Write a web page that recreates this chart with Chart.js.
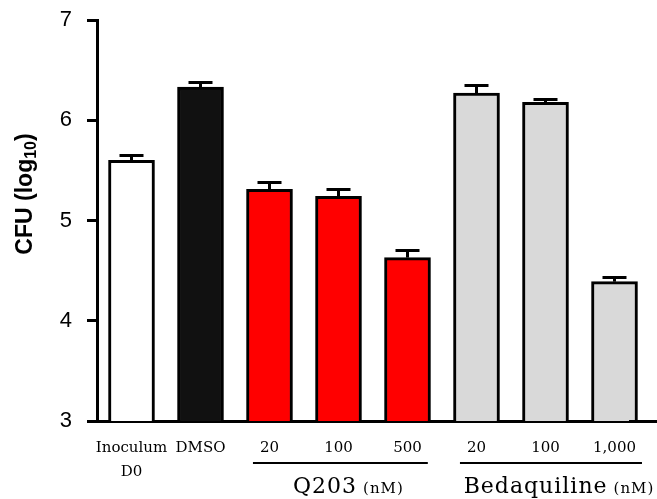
<!DOCTYPE html>
<html lang="en">
<head>
<meta charset="UTF-8" />
<title>CFU (log10)</title>
<script src="https://cdn.jsdelivr.net/npm/chart.js"></script>
<style>
  html, body { margin: 0; padding: 0; background: #fff; }
  canvas { display: block; }
</style>
</head>
<body>
<canvas id="cfuChart" width="657" height="499"></canvas>
<script>
  // data
  const categories = [['Inoculum', 'D0'], 'DMSO', '20', '100', '500', '20', '100', '1,000'];
  const cfuMean = [5.60, 6.33, 5.31, 5.24, 4.63, 6.27, 6.18, 4.39];
  const cfuErr = [0.05, 0.05, 0.07, 0.07, 0.07, 0.08, 0.03, 0.04];
  const barColors = ['#ffffff', '#111111', '#ff0000', '#ff0000', '#ff0000', '#d9d9d9', '#d9d9d9', '#d9d9d9'];
  const yTicks = [3, 4, 5, 6, 7];
  const groups = [
    { name: 'Q203', unit: '(nM)', first: 2, last: 4 },
    { name: 'Bedaquiline', unit: '(nM)', first: 5, last: 7 }
  ];

  const sansFont = '"Liberation Sans", Arial, sans-serif';
  const serifFont = '"DejaVu Serif", "Liberation Serif", serif';

  // same rounding chart.js uses for its borders
  const align = (px, w) => Math.round(px - w / 2) + w / 2;

  // upper error bars with caps
  const errorBars = {
    id: 'errorBars',
    afterDatasetsDraw(chart) {
      const ctx = chart.ctx;
      const y = chart.scales.y;
      const meta = chart.getDatasetMeta(0);
      ctx.save();
      ctx.strokeStyle = '#000';
      meta.data.forEach((bar, i) => {
        const top = align(y.getPixelForValue(cfuMean[i] + cfuErr[i]), 3);
        const cx = align(bar.x, 3);
        ctx.lineWidth = 3;
        ctx.beginPath();
        ctx.moveTo(cx, bar.y);
        ctx.lineTo(cx, top);
        ctx.stroke();
        ctx.beginPath();
        ctx.moveTo(cx - 12, top);
        ctx.lineTo(cx + 12, top);
        ctx.stroke();
      });
      ctx.restore();
    }
  };

  // y title with subscript, group underlines and names, axis line to the edge
  const extras = {
    id: 'extras',
    afterDraw(chart) {
      const ctx = chart.ctx;
      const area = chart.chartArea;
      const xs = chart.scales.x;
      ctx.save();

      // x axis line runs to the right edge
      const yb = align(area.bottom, 3);
      ctx.strokeStyle = '#000';
      ctx.lineWidth = 3;
      ctx.beginPath();
      ctx.moveTo(area.right - 20, yb);
      ctx.lineTo(chart.width, yb);
      ctx.stroke();

      // y title
      ctx.save();
      ctx.translate(26, 194);
      ctx.rotate(-Math.PI / 2);
      ctx.fillStyle = '#000';
      ctx.textBaseline = 'middle';
      ctx.textAlign = 'left';
      const mainFont = 'bold 23px ' + sansFont;
      const subFont = 'bold 16px ' + sansFont;
      ctx.font = mainFont;
      const w1 = ctx.measureText('CFU (log').width;
      const w3 = ctx.measureText(')').width;
      ctx.font = subFont;
      const w2 = ctx.measureText('10').width;
      let x0 = -(w1 + w2 + w3) / 2;
      ctx.font = mainFont;
      ctx.fillText('CFU (log', x0, 0);
      ctx.font = subFont;
      ctx.fillText('10', x0 + w1, 6);
      ctx.font = mainFont;
      ctx.fillText(')', x0 + w1 + w2, 0);
      ctx.restore();

      // group underlines and names
      ctx.fillStyle = '#000';
      groups.forEach(g => {
        ctx.font = '15px ' + serifFont;
        const lf = ctx.measureText(categories[g.first]).width;
        const ll = ctx.measureText(categories[g.last]).width;
        const x1 = xs.getPixelForValue(g.first) - lf / 2 - 7;
        const x2 = xs.getPixelForValue(g.last) + ll / 2 + 6;
        ctx.lineWidth = 2;
        ctx.beginPath();
        ctx.moveTo(x1, area.bottom + 42);
        ctx.lineTo(x2, area.bottom + 42);
        ctx.stroke();

        ctx.textBaseline = 'alphabetic';
        ctx.textAlign = 'left';
        ctx.letterSpacing = '1px';
        ctx.font = '22px ' + serifFont;
        const wn = ctx.measureText(g.name).width;
        ctx.font = '15px ' + serifFont;
        const wu = ctx.measureText(g.unit).width;
        const gap = 6;
        let sx = (x1 + x2) / 2 - (wn + gap + wu) / 2 + 8;
        ctx.font = '22px ' + serifFont;
        ctx.fillText(g.name, sx, area.bottom + 72);
        ctx.font = '15px ' + serifFont;
        ctx.fillText(g.unit, sx + wn + gap, area.bottom + 72);
        ctx.letterSpacing = '0px';
      });
      ctx.restore();
    }
  };

  new Chart(document.getElementById('cfuChart'), {
    type: 'bar',
    data: {
      labels: categories,
      datasets: [{
        data: cfuMean,
        backgroundColor: barColors,
        borderColor: '#000',
        borderWidth: 3,
        borderSkipped: false,
        barThickness: 46
      }]
    },
    options: {
      responsive: false,
      animation: false,
      events: [],
      layout: { padding: { top: 20, right: 8, bottom: 0, left: 0 } },
      plugins: { legend: { display: false }, tooltip: { enabled: false } },
      scales: {
        x: {
          afterFit: s => { s.height = 78; s.paddingLeft = 0; s.paddingRight = 0; },
          grid: { display: false, drawTicks: false },
          border: { display: true, color: '#000', width: 3 },
          ticks: {
            color: '#000',
            font: { family: serifFont, size: 15, lineHeight: 1.6 },
            padding: 15,
            maxRotation: 0,
            autoSkip: false
          }
        },
        y: {
          min: yTicks[0],
          max: yTicks[yTicks.length - 1],
          afterFit: s => { s.width = 97; s.paddingTop = 0; s.paddingBottom = 0; },
          afterBuildTicks: s => { s.ticks = yTicks.map(v => ({ value: v })); },
          grid: { drawOnChartArea: false, drawTicks: true, tickLength: 10, tickWidth: 3, tickColor: '#000' },
          border: { display: true, color: '#000', width: 3 },
          ticks: {
            color: '#000',
            font: { family: sansFont, size: 22 },
            padding: 15
          }
        }
      }
    },
    plugins: [errorBars, extras]
  });
</script>
</body>
</html>
